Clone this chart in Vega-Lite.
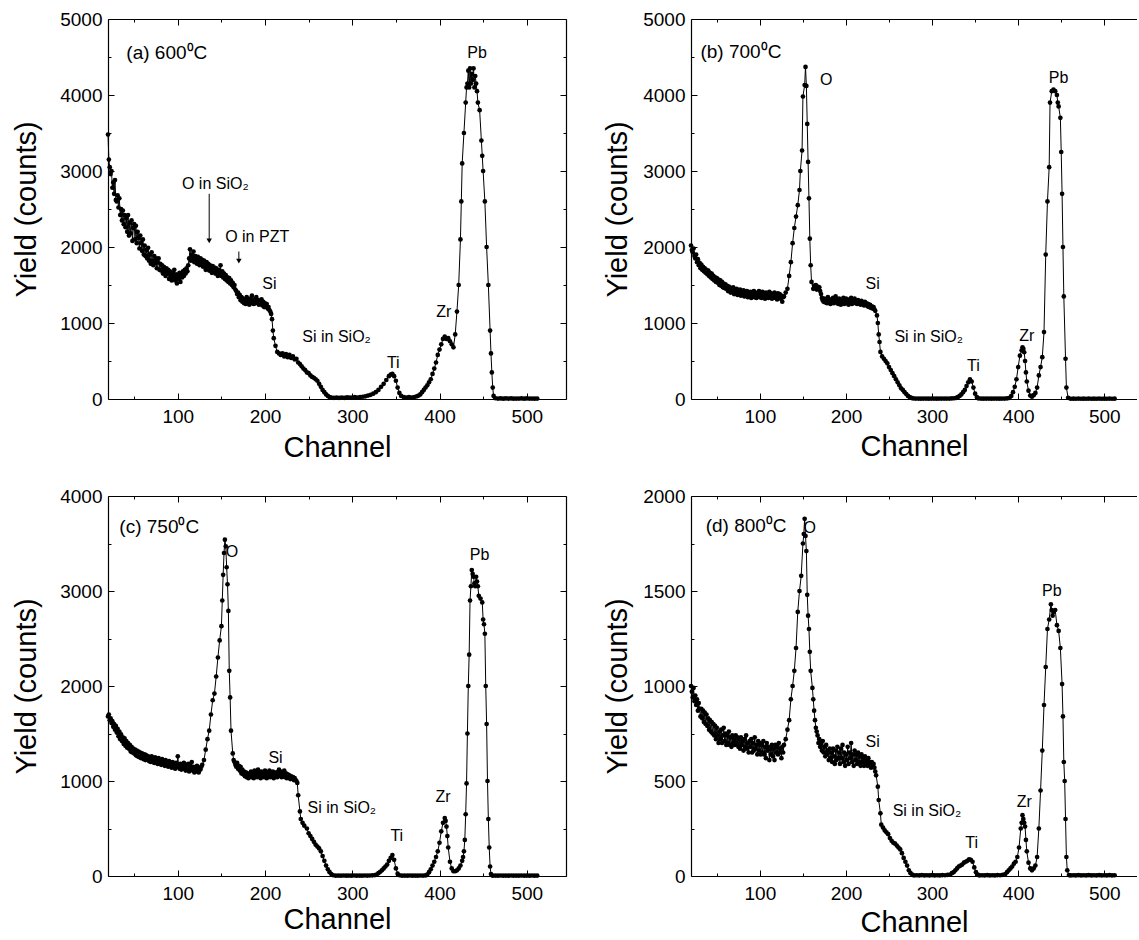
{
"$schema": "https://vega.github.io/schema/vega-lite/v6.json",
"padding": {"left": 12, "top": 10, "right": 0, "bottom": 0},
"columns": 2,
"bounds": "flush",
"spacing": {"row": 97, "column": 125},
"config": {
  "font": "Liberation Sans",
  "view": {"stroke": null},
  "axis": {"domainColor": "black", "domainWidth": 1.2, "tickColor": "black", "tickWidth": 1, "labelColor": "black", "titleColor": "black", "labelFontSize": 19, "titleFontSize": 29, "titleFontWeight": "normal", "grid": false, "labelFont": "Liberation Sans", "titleFont": "Liberation Sans", "labelFlush": false, "labelOverlap": false, "format": "d"},
  "text": {"font": "Liberation Sans", "color": "black"}
},
"datasets": {
"a": [{"c":20,"y":3480},{"c":21,"y":3150},{"c":22,"y":3050},{"c":23,"y":2960},{"c":24,"y":3000},{"c":25,"y":2780},{"c":26,"y":2850},{"c":27,"y":2700},{"c":28,"y":2880},{"c":29,"y":2620},{"c":30,"y":2600},{"c":31,"y":2680},{"c":32,"y":2520},{"c":33,"y":2640},{"c":34,"y":2420},{"c":35,"y":2500},{"c":36,"y":2350},{"c":37,"y":2480},{"c":38,"y":2300},{"c":39,"y":2420},{"c":40,"y":2260},{"c":41,"y":2380},{"c":42,"y":2200},{"c":43,"y":2420},{"c":44,"y":2150},{"c":45,"y":2320},{"c":46,"y":2180},{"c":47,"y":2350},{"c":48,"y":2080},{"c":49,"y":2250},{"c":50,"y":2300},{"c":51,"y":2100},{"c":52,"y":2280},{"c":53,"y":2050},{"c":54,"y":2200},{"c":55,"y":2120},{"c":56,"y":1980},{"c":57,"y":2150},{"c":58,"y":2050},{"c":59,"y":1950},{"c":60,"y":2100},{"c":61,"y":1900},{"c":62,"y":2020},{"c":63,"y":1880},{"c":64,"y":1960},{"c":65,"y":1850},{"c":66,"y":1990},{"c":67,"y":1820},{"c":68,"y":1900},{"c":69,"y":1780},{"c":70,"y":1930},{"c":71,"y":1820},{"c":72,"y":1760},{"c":73,"y":1880},{"c":74,"y":1790},{"c":75,"y":1850},{"c":76,"y":1720},{"c":77,"y":1800},{"c":78,"y":1850},{"c":79,"y":1700},{"c":80,"y":1780},{"c":81,"y":1690},{"c":82,"y":1760},{"c":83,"y":1650},{"c":84,"y":1740},{"c":85,"y":1680},{"c":86,"y":1620},{"c":87,"y":1720},{"c":88,"y":1650},{"c":89,"y":1700},{"c":90,"y":1580},{"c":91,"y":1680},{"c":92,"y":1620},{"c":93,"y":1560},{"c":94,"y":1660},{"c":95,"y":1600},{"c":96,"y":1700},{"c":97,"y":1560},{"c":98,"y":1640},{"c":99,"y":1520},{"c":100,"y":1620},{"c":101,"y":1580},{"c":102,"y":1660},{"c":103,"y":1540},{"c":104,"y":1640},{"c":105,"y":1600},{"c":106,"y":1680},{"c":107,"y":1620},{"c":108,"y":1700},{"c":109,"y":1650},{"c":110,"y":1720},{"c":111,"y":1680},{"c":112,"y":1760},{"c":113,"y":1850},{"c":114,"y":1970},{"c":115,"y":1820},{"c":116,"y":1900},{"c":117,"y":1850},{"c":118,"y":1940},{"c":119,"y":1800},{"c":120,"y":1880},{"c":121,"y":1830},{"c":122,"y":1780},{"c":123,"y":1870},{"c":124,"y":1810},{"c":125,"y":1760},{"c":126,"y":1850},{"c":127,"y":1790},{"c":128,"y":1830},{"c":129,"y":1740},{"c":130,"y":1820},{"c":131,"y":1760},{"c":132,"y":1700},{"c":133,"y":1800},{"c":134,"y":1740},{"c":135,"y":1780},{"c":136,"y":1690},{"c":137,"y":1760},{"c":138,"y":1720},{"c":139,"y":1660},{"c":140,"y":1750},{"c":141,"y":1690},{"c":142,"y":1730},{"c":143,"y":1650},{"c":144,"y":1720},{"c":145,"y":1680},{"c":146,"y":1620},{"c":147,"y":1700},{"c":148,"y":1650},{"c":149,"y":1760},{"c":150,"y":1620},{"c":151,"y":1680},{"c":152,"y":1600},{"c":153,"y":1650},{"c":154,"y":1580},{"c":155,"y":1630},{"c":156,"y":1560},{"c":157,"y":1600},{"c":158,"y":1540},{"c":159,"y":1590},{"c":160,"y":1520},{"c":161,"y":1560},{"c":162,"y":1500},{"c":163,"y":1530},{"c":164,"y":1470},{"c":165,"y":1500},{"c":166,"y":1440},{"c":167,"y":1420},{"c":168,"y":1380},{"c":169,"y":1400},{"c":170,"y":1340},{"c":171,"y":1370},{"c":172,"y":1300},{"c":173,"y":1340},{"c":174,"y":1280},{"c":175,"y":1320},{"c":176,"y":1260},{"c":177,"y":1310},{"c":178,"y":1250},{"c":179,"y":1340},{"c":180,"y":1270},{"c":181,"y":1300},{"c":182,"y":1240},{"c":183,"y":1320},{"c":184,"y":1260},{"c":185,"y":1360},{"c":186,"y":1280},{"c":187,"y":1250},{"c":188,"y":1310},{"c":189,"y":1260},{"c":190,"y":1340},{"c":191,"y":1270},{"c":192,"y":1300},{"c":193,"y":1240},{"c":194,"y":1290},{"c":195,"y":1250},{"c":196,"y":1310},{"c":197,"y":1230},{"c":198,"y":1280},{"c":199,"y":1210},{"c":200,"y":1260},{"c":201,"y":1220},{"c":202,"y":1250},{"c":203,"y":1190},{"c":204,"y":1210},{"c":205,"y":1170},{"c":206,"y":1150},{"c":207,"y":1120},{"c":208,"y":1050},{"c":209,"y":900},{"c":210,"y":800},{"c":212,"y":700},{"c":214,"y":620},{"c":216,"y":600},{"c":218,"y":580},{"c":220,"y":600},{"c":222,"y":560},{"c":224,"y":590},{"c":226,"y":550},{"c":228,"y":580},{"c":230,"y":540},{"c":232,"y":560},{"c":234,"y":520},{"c":236,"y":530},{"c":238,"y":480},{"c":240,"y":460},{"c":242,"y":430},{"c":244,"y":400},{"c":246,"y":380},{"c":248,"y":350},{"c":250,"y":340},{"c":252,"y":310},{"c":254,"y":290},{"c":256,"y":280},{"c":258,"y":260},{"c":260,"y":240},{"c":262,"y":200},{"c":264,"y":160},{"c":266,"y":120},{"c":268,"y":90},{"c":270,"y":60},{"c":272,"y":40},{"c":274,"y":25},{"c":276,"y":18},{"c":279,"y":15},{"c":282,"y":20},{"c":285,"y":15},{"c":288,"y":20},{"c":291,"y":15},{"c":294,"y":22},{"c":297,"y":18},{"c":300,"y":20},{"c":303,"y":25},{"c":306,"y":20},{"c":309,"y":25},{"c":312,"y":30},{"c":315,"y":35},{"c":318,"y":45},{"c":321,"y":55},{"c":324,"y":70},{"c":327,"y":90},{"c":330,"y":120},{"c":333,"y":160},{"c":336,"y":200},{"c":339,"y":250},{"c":342,"y":300},{"c":344,"y":320},{"c":346,"y":330},{"c":348,"y":300},{"c":350,"y":240},{"c":352,"y":150},{"c":354,"y":80},{"c":356,"y":40},{"c":359,"y":25},{"c":362,"y":20},{"c":365,"y":25},{"c":368,"y":20},{"c":371,"y":25},{"c":374,"y":35},{"c":376,"y":45},{"c":378,"y":60},{"c":380,"y":90},{"c":382,"y":120},{"c":384,"y":150},{"c":386,"y":180},{"c":388,"y":220},{"c":390,"y":260},{"c":392,"y":330},{"c":394,"y":400},{"c":396,"y":480},{"c":398,"y":580},{"c":400,"y":650},{"c":402,"y":720},{"c":404,"y":790},{"c":406,"y":820},{"c":408,"y":790},{"c":410,"y":800},{"c":412,"y":760},{"c":414,"y":720},{"c":416,"y":680},{"c":418,"y":850},{"c":420,"y":1150},{"c":422,"y":1500},{"c":424,"y":2100},{"c":425,"y":2600},{"c":426,"y":3100},{"c":428,"y":3500},{"c":430,"y":3900},{"c":431,"y":4100},{"c":432,"y":4150},{"c":433,"y":4320},{"c":434,"y":4100},{"c":435,"y":4350},{"c":436,"y":4150},{"c":437,"y":4280},{"c":438,"y":4200},{"c":439,"y":4350},{"c":440,"y":4100},{"c":441,"y":4250},{"c":442,"y":4150},{"c":443,"y":4050},{"c":444,"y":3900},{"c":446,"y":3800},{"c":448,"y":3400},{"c":449,"y":3200},{"c":450,"y":3000},{"c":452,"y":2600},{"c":454,"y":2000},{"c":456,"y":1500},{"c":458,"y":900},{"c":459,"y":600},{"c":460,"y":350},{"c":461,"y":150},{"c":462,"y":40},{"c":464,"y":10},{"c":467,"y":5},{"c":470,"y":8},{"c":473,"y":4},{"c":476,"y":7},{"c":479,"y":5},{"c":482,"y":8},{"c":485,"y":4},{"c":488,"y":6},{"c":491,"y":5},{"c":494,"y":8},{"c":497,"y":4},{"c":500,"y":7},{"c":503,"y":5},{"c":506,"y":6},{"c":509,"y":4},{"c":512,"y":5}],
"b": [{"c":20,"y":2020},{"c":21,"y":1960},{"c":22,"y":1930},{"c":23,"y":1980},{"c":24,"y":1880},{"c":25,"y":1850},{"c":26,"y":1900},{"c":27,"y":1800},{"c":28,"y":1840},{"c":29,"y":1760},{"c":30,"y":1790},{"c":31,"y":1720},{"c":32,"y":1770},{"c":33,"y":1700},{"c":34,"y":1740},{"c":35,"y":1680},{"c":36,"y":1720},{"c":37,"y":1660},{"c":38,"y":1700},{"c":39,"y":1640},{"c":40,"y":1690},{"c":41,"y":1620},{"c":42,"y":1660},{"c":43,"y":1600},{"c":44,"y":1650},{"c":45,"y":1580},{"c":46,"y":1620},{"c":47,"y":1560},{"c":48,"y":1600},{"c":49,"y":1540},{"c":50,"y":1590},{"c":51,"y":1530},{"c":52,"y":1570},{"c":53,"y":1500},{"c":54,"y":1560},{"c":55,"y":1490},{"c":56,"y":1540},{"c":57,"y":1470},{"c":58,"y":1520},{"c":59,"y":1460},{"c":60,"y":1510},{"c":61,"y":1450},{"c":62,"y":1490},{"c":63,"y":1420},{"c":64,"y":1480},{"c":65,"y":1430},{"c":66,"y":1400},{"c":67,"y":1460},{"c":68,"y":1410},{"c":69,"y":1470},{"c":70,"y":1380},{"c":71,"y":1430},{"c":72,"y":1390},{"c":73,"y":1450},{"c":74,"y":1370},{"c":75,"y":1420},{"c":76,"y":1380},{"c":77,"y":1440},{"c":78,"y":1360},{"c":79,"y":1410},{"c":80,"y":1380},{"c":81,"y":1430},{"c":82,"y":1350},{"c":83,"y":1400},{"c":84,"y":1370},{"c":85,"y":1420},{"c":86,"y":1340},{"c":87,"y":1390},{"c":88,"y":1360},{"c":89,"y":1410},{"c":90,"y":1330},{"c":91,"y":1400},{"c":92,"y":1350},{"c":93,"y":1420},{"c":94,"y":1340},{"c":95,"y":1380},{"c":96,"y":1330},{"c":97,"y":1400},{"c":98,"y":1350},{"c":99,"y":1420},{"c":100,"y":1340},{"c":101,"y":1380},{"c":102,"y":1330},{"c":103,"y":1410},{"c":104,"y":1350},{"c":105,"y":1390},{"c":106,"y":1320},{"c":107,"y":1400},{"c":108,"y":1340},{"c":109,"y":1380},{"c":110,"y":1330},{"c":111,"y":1410},{"c":112,"y":1350},{"c":113,"y":1390},{"c":114,"y":1320},{"c":115,"y":1380},{"c":116,"y":1340},{"c":117,"y":1400},{"c":118,"y":1330},{"c":119,"y":1370},{"c":120,"y":1310},{"c":121,"y":1390},{"c":122,"y":1340},{"c":123,"y":1380},{"c":124,"y":1320},{"c":125,"y":1360},{"c":126,"y":1280},{"c":127,"y":1340},{"c":128,"y":1350},{"c":130,"y":1400},{"c":132,"y":1450},{"c":134,"y":1620},{"c":136,"y":1800},{"c":138,"y":2050},{"c":140,"y":2250},{"c":142,"y":2400},{"c":144,"y":2550},{"c":146,"y":2750},{"c":147,"y":3000},{"c":149,"y":3270},{"c":150,"y":3980},{"c":152,"y":4130},{"c":153,"y":4370},{"c":154,"y":4120},{"c":155,"y":3620},{"c":156,"y":3120},{"c":157,"y":2640},{"c":158,"y":2110},{"c":159,"y":1760},{"c":160,"y":1540},{"c":162,"y":1450},{"c":163,"y":1490},{"c":164,"y":1460},{"c":165,"y":1500},{"c":166,"y":1440},{"c":167,"y":1480},{"c":168,"y":1450},{"c":169,"y":1470},{"c":170,"y":1420},{"c":171,"y":1380},{"c":172,"y":1330},{"c":173,"y":1300},{"c":174,"y":1280},{"c":175,"y":1320},{"c":176,"y":1270},{"c":177,"y":1300},{"c":178,"y":1260},{"c":179,"y":1340},{"c":180,"y":1280},{"c":181,"y":1310},{"c":182,"y":1250},{"c":183,"y":1300},{"c":184,"y":1270},{"c":185,"y":1330},{"c":186,"y":1260},{"c":187,"y":1290},{"c":188,"y":1350},{"c":189,"y":1270},{"c":190,"y":1310},{"c":191,"y":1250},{"c":192,"y":1320},{"c":193,"y":1280},{"c":194,"y":1240},{"c":195,"y":1300},{"c":196,"y":1270},{"c":197,"y":1330},{"c":198,"y":1250},{"c":199,"y":1290},{"c":200,"y":1320},{"c":201,"y":1260},{"c":202,"y":1300},{"c":203,"y":1240},{"c":204,"y":1310},{"c":205,"y":1270},{"c":206,"y":1330},{"c":207,"y":1250},{"c":208,"y":1300},{"c":209,"y":1270},{"c":210,"y":1320},{"c":211,"y":1260},{"c":212,"y":1290},{"c":213,"y":1250},{"c":214,"y":1300},{"c":215,"y":1260},{"c":216,"y":1280},{"c":217,"y":1240},{"c":218,"y":1290},{"c":219,"y":1250},{"c":220,"y":1270},{"c":221,"y":1230},{"c":222,"y":1280},{"c":223,"y":1240},{"c":224,"y":1260},{"c":225,"y":1220},{"c":226,"y":1250},{"c":227,"y":1210},{"c":228,"y":1240},{"c":229,"y":1200},{"c":230,"y":1220},{"c":231,"y":1190},{"c":232,"y":1210},{"c":233,"y":1180},{"c":234,"y":1160},{"c":236,"y":1100},{"c":237,"y":1000},{"c":238,"y":850},{"c":239,"y":750},{"c":240,"y":620},{"c":242,"y":560},{"c":244,"y":530},{"c":246,"y":500},{"c":248,"y":470},{"c":250,"y":420},{"c":252,"y":380},{"c":254,"y":340},{"c":256,"y":300},{"c":258,"y":260},{"c":260,"y":220},{"c":262,"y":180},{"c":264,"y":140},{"c":266,"y":120},{"c":268,"y":90},{"c":270,"y":65},{"c":272,"y":40},{"c":274,"y":25},{"c":276,"y":15},{"c":278,"y":8},{"c":281,"y":5},{"c":284,"y":6},{"c":287,"y":4},{"c":290,"y":6},{"c":293,"y":5},{"c":296,"y":4},{"c":299,"y":6},{"c":302,"y":5},{"c":305,"y":4},{"c":308,"y":6},{"c":311,"y":5},{"c":314,"y":6},{"c":317,"y":5},{"c":320,"y":6},{"c":323,"y":8},{"c":326,"y":10},{"c":328,"y":15},{"c":330,"y":25},{"c":332,"y":40},{"c":334,"y":60},{"c":336,"y":90},{"c":338,"y":120},{"c":340,"y":170},{"c":342,"y":220},{"c":344,"y":260},{"c":346,"y":230},{"c":348,"y":150},{"c":350,"y":70},{"c":352,"y":25},{"c":354,"y":8},{"c":357,"y":5},{"c":360,"y":4},{"c":363,"y":6},{"c":366,"y":5},{"c":369,"y":4},{"c":372,"y":6},{"c":375,"y":5},{"c":378,"y":4},{"c":381,"y":6},{"c":384,"y":5},{"c":387,"y":8},{"c":390,"y":15},{"c":392,"y":40},{"c":394,"y":90},{"c":396,"y":160},{"c":398,"y":260},{"c":400,"y":420},{"c":402,"y":570},{"c":404,"y":640},{"c":405,"y":680},{"c":406,"y":660},{"c":407,"y":615},{"c":408,"y":500},{"c":409,"y":350},{"c":410,"y":230},{"c":412,"y":110},{"c":414,"y":45},{"c":416,"y":30},{"c":418,"y":50},{"c":420,"y":80},{"c":422,"y":150},{"c":424,"y":310},{"c":426,"y":420},{"c":428,"y":550},{"c":430,"y":880},{"c":432,"y":1900},{"c":434,"y":2600},{"c":436,"y":3050},{"c":437,"y":3900},{"c":439,"y":4050},{"c":441,"y":4070},{"c":443,"y":4050},{"c":445,"y":4000},{"c":446,"y":3900},{"c":447,"y":3850},{"c":449,"y":3700},{"c":450,"y":3250},{"c":451,"y":2700},{"c":452,"y":2000},{"c":453,"y":1350},{"c":455,"y":530},{"c":456,"y":150},{"c":458,"y":15},{"c":461,"y":3},{"c":464,"y":4},{"c":467,"y":3},{"c":470,"y":5},{"c":473,"y":3},{"c":476,"y":4},{"c":479,"y":3},{"c":482,"y":5},{"c":485,"y":3},{"c":488,"y":4},{"c":491,"y":3},{"c":494,"y":5},{"c":497,"y":3},{"c":500,"y":4},{"c":503,"y":3},{"c":506,"y":5},{"c":509,"y":3},{"c":512,"y":4}],
"c": [{"c":20,"y":1680},{"c":21,"y":1700},{"c":22,"y":1640},{"c":23,"y":1660},{"c":24,"y":1610},{"c":25,"y":1630},{"c":26,"y":1570},{"c":27,"y":1600},{"c":28,"y":1540},{"c":29,"y":1580},{"c":30,"y":1510},{"c":31,"y":1550},{"c":32,"y":1470},{"c":33,"y":1520},{"c":34,"y":1440},{"c":35,"y":1490},{"c":36,"y":1420},{"c":37,"y":1460},{"c":38,"y":1390},{"c":39,"y":1450},{"c":40,"y":1370},{"c":41,"y":1420},{"c":42,"y":1350},{"c":43,"y":1400},{"c":44,"y":1340},{"c":45,"y":1380},{"c":46,"y":1310},{"c":47,"y":1360},{"c":48,"y":1300},{"c":49,"y":1340},{"c":50,"y":1290},{"c":51,"y":1330},{"c":52,"y":1270},{"c":53,"y":1320},{"c":54,"y":1260},{"c":55,"y":1310},{"c":56,"y":1250},{"c":57,"y":1300},{"c":58,"y":1240},{"c":59,"y":1290},{"c":60,"y":1260},{"c":61,"y":1230},{"c":62,"y":1280},{"c":63,"y":1220},{"c":64,"y":1270},{"c":65,"y":1230},{"c":66,"y":1260},{"c":67,"y":1210},{"c":68,"y":1250},{"c":69,"y":1200},{"c":70,"y":1260},{"c":71,"y":1210},{"c":72,"y":1240},{"c":73,"y":1190},{"c":74,"y":1250},{"c":75,"y":1200},{"c":76,"y":1230},{"c":77,"y":1180},{"c":78,"y":1240},{"c":79,"y":1190},{"c":80,"y":1220},{"c":81,"y":1170},{"c":82,"y":1230},{"c":83,"y":1180},{"c":84,"y":1210},{"c":85,"y":1160},{"c":86,"y":1220},{"c":87,"y":1170},{"c":88,"y":1200},{"c":89,"y":1150},{"c":90,"y":1210},{"c":91,"y":1160},{"c":92,"y":1190},{"c":93,"y":1140},{"c":94,"y":1200},{"c":95,"y":1150},{"c":96,"y":1180},{"c":97,"y":1130},{"c":98,"y":1190},{"c":99,"y":1150},{"c":100,"y":1260},{"c":101,"y":1160},{"c":102,"y":1130},{"c":103,"y":1180},{"c":104,"y":1120},{"c":105,"y":1170},{"c":106,"y":1130},{"c":107,"y":1190},{"c":108,"y":1140},{"c":109,"y":1110},{"c":110,"y":1170},{"c":111,"y":1120},{"c":112,"y":1180},{"c":113,"y":1100},{"c":114,"y":1160},{"c":115,"y":1120},{"c":116,"y":1200},{"c":117,"y":1110},{"c":118,"y":1150},{"c":119,"y":1090},{"c":120,"y":1140},{"c":121,"y":1100},{"c":122,"y":1160},{"c":123,"y":1110},{"c":124,"y":1090},{"c":125,"y":1140},{"c":126,"y":1120},{"c":127,"y":1150},{"c":128,"y":1170},{"c":130,"y":1220},{"c":132,"y":1330},{"c":134,"y":1440},{"c":136,"y":1530},{"c":138,"y":1700},{"c":140,"y":1850},{"c":142,"y":1920},{"c":144,"y":2100},{"c":146,"y":2300},{"c":148,"y":2480},{"c":150,"y":2630},{"c":151,"y":2900},{"c":152,"y":3170},{"c":153,"y":3400},{"c":154,"y":3540},{"c":155,"y":3470},{"c":156,"y":3250},{"c":157,"y":3070},{"c":158,"y":2790},{"c":159,"y":2160},{"c":160,"y":1880},{"c":161,"y":1530},{"c":163,"y":1290},{"c":164,"y":1220},{"c":165,"y":1200},{"c":166,"y":1170},{"c":167,"y":1150},{"c":168,"y":1190},{"c":169,"y":1130},{"c":170,"y":1160},{"c":171,"y":1110},{"c":172,"y":1150},{"c":173,"y":1080},{"c":174,"y":1120},{"c":175,"y":1070},{"c":176,"y":1100},{"c":177,"y":1050},{"c":178,"y":1090},{"c":179,"y":1040},{"c":180,"y":1080},{"c":181,"y":1030},{"c":182,"y":1070},{"c":183,"y":1050},{"c":184,"y":1100},{"c":185,"y":1040},{"c":186,"y":1080},{"c":187,"y":1030},{"c":188,"y":1110},{"c":189,"y":1060},{"c":190,"y":1090},{"c":191,"y":1040},{"c":192,"y":1120},{"c":193,"y":1050},{"c":194,"y":1080},{"c":195,"y":1030},{"c":196,"y":1100},{"c":197,"y":1060},{"c":198,"y":1090},{"c":199,"y":1040},{"c":200,"y":1110},{"c":201,"y":1060},{"c":202,"y":1030},{"c":203,"y":1090},{"c":204,"y":1050},{"c":205,"y":1110},{"c":206,"y":1040},{"c":207,"y":1080},{"c":208,"y":1060},{"c":209,"y":1100},{"c":210,"y":1030},{"c":211,"y":1070},{"c":212,"y":1050},{"c":213,"y":1090},{"c":214,"y":1040},{"c":215,"y":1080},{"c":216,"y":1120},{"c":217,"y":1060},{"c":218,"y":1100},{"c":219,"y":1040},{"c":220,"y":1090},{"c":221,"y":1050},{"c":222,"y":1110},{"c":223,"y":1040},{"c":224,"y":1080},{"c":225,"y":1030},{"c":226,"y":1070},{"c":227,"y":1040},{"c":228,"y":1060},{"c":229,"y":1020},{"c":230,"y":1050},{"c":231,"y":1030},{"c":232,"y":1040},{"c":233,"y":1010},{"c":234,"y":1030},{"c":235,"y":1010},{"c":236,"y":1000},{"c":237,"y":980},{"c":238,"y":850},{"c":240,"y":680},{"c":241,"y":600},{"c":243,"y":560},{"c":245,"y":530},{"c":248,"y":500},{"c":250,"y":450},{"c":252,"y":420},{"c":254,"y":390},{"c":256,"y":360},{"c":258,"y":330},{"c":260,"y":310},{"c":262,"y":290},{"c":264,"y":260},{"c":266,"y":210},{"c":268,"y":160},{"c":270,"y":110},{"c":272,"y":70},{"c":274,"y":40},{"c":276,"y":20},{"c":278,"y":8},{"c":281,"y":3},{"c":284,"y":4},{"c":287,"y":3},{"c":290,"y":5},{"c":293,"y":3},{"c":296,"y":4},{"c":299,"y":3},{"c":302,"y":5},{"c":305,"y":3},{"c":308,"y":4},{"c":311,"y":3},{"c":314,"y":5},{"c":317,"y":4},{"c":320,"y":5},{"c":323,"y":7},{"c":326,"y":10},{"c":328,"y":15},{"c":330,"y":30},{"c":332,"y":45},{"c":334,"y":60},{"c":336,"y":80},{"c":338,"y":100},{"c":340,"y":120},{"c":342,"y":160},{"c":344,"y":190},{"c":346,"y":220},{"c":348,"y":170},{"c":350,"y":80},{"c":352,"y":25},{"c":354,"y":8},{"c":357,"y":3},{"c":360,"y":4},{"c":363,"y":3},{"c":366,"y":5},{"c":369,"y":3},{"c":372,"y":4},{"c":375,"y":3},{"c":378,"y":5},{"c":381,"y":4},{"c":384,"y":6},{"c":386,"y":15},{"c":388,"y":40},{"c":390,"y":70},{"c":392,"y":110},{"c":394,"y":150},{"c":396,"y":200},{"c":398,"y":260},{"c":400,"y":350},{"c":402,"y":470},{"c":404,"y":560},{"c":406,"y":610},{"c":407,"y":580},{"c":408,"y":520},{"c":409,"y":420},{"c":410,"y":300},{"c":412,"y":150},{"c":414,"y":80},{"c":416,"y":50},{"c":418,"y":50},{"c":420,"y":60},{"c":422,"y":80},{"c":424,"y":110},{"c":426,"y":160},{"c":427,"y":200},{"c":428,"y":260},{"c":429,"y":380},{"c":430,"y":650},{"c":431,"y":975},{"c":432,"y":1500},{"c":433,"y":2000},{"c":434,"y":2330},{"c":435,"y":2900},{"c":436,"y":3050},{"c":437,"y":3220},{"c":438,"y":3180},{"c":439,"y":3150},{"c":440,"y":3080},{"c":441,"y":3050},{"c":442,"y":3150},{"c":443,"y":3100},{"c":444,"y":3050},{"c":445,"y":2950},{"c":447,"y":2920},{"c":449,"y":2880},{"c":450,"y":2700},{"c":451,"y":2650},{"c":452,"y":2550},{"c":453,"y":2000},{"c":454,"y":1600},{"c":455,"y":1000},{"c":456,"y":600},{"c":457,"y":300},{"c":458,"y":100},{"c":459,"y":20},{"c":461,"y":3},{"c":464,"y":4},{"c":467,"y":3},{"c":470,"y":5},{"c":473,"y":3},{"c":476,"y":4},{"c":479,"y":3},{"c":482,"y":5},{"c":485,"y":3},{"c":488,"y":4},{"c":491,"y":3},{"c":494,"y":5},{"c":497,"y":3},{"c":500,"y":4},{"c":503,"y":3},{"c":506,"y":5},{"c":509,"y":3},{"c":512,"y":4}],
"d": [{"c":20,"y":1000},{"c":21,"y":970},{"c":22,"y":940},{"c":23,"y":990},{"c":24,"y":920},{"c":25,"y":950},{"c":26,"y":900},{"c":27,"y":930},{"c":28,"y":870},{"c":29,"y":910},{"c":30,"y":880},{"c":31,"y":840},{"c":32,"y":880},{"c":33,"y":830},{"c":34,"y":870},{"c":35,"y":810},{"c":36,"y":860},{"c":37,"y":800},{"c":38,"y":850},{"c":39,"y":790},{"c":40,"y":830},{"c":41,"y":770},{"c":42,"y":820},{"c":43,"y":760},{"c":44,"y":810},{"c":45,"y":750},{"c":46,"y":800},{"c":47,"y":740},{"c":48,"y":790},{"c":49,"y":720},{"c":50,"y":780},{"c":51,"y":740},{"c":52,"y":700},{"c":53,"y":760},{"c":54,"y":720},{"c":55,"y":770},{"c":56,"y":700},{"c":57,"y":740},{"c":58,"y":780},{"c":59,"y":710},{"c":60,"y":750},{"c":61,"y":690},{"c":62,"y":740},{"c":63,"y":700},{"c":64,"y":760},{"c":65,"y":690},{"c":66,"y":730},{"c":67,"y":680},{"c":68,"y":740},{"c":69,"y":700},{"c":70,"y":720},{"c":71,"y":690},{"c":72,"y":740},{"c":73,"y":700},{"c":74,"y":730},{"c":75,"y":680},{"c":76,"y":720},{"c":77,"y":670},{"c":78,"y":730},{"c":79,"y":690},{"c":80,"y":710},{"c":81,"y":660},{"c":82,"y":720},{"c":83,"y":680},{"c":84,"y":740},{"c":85,"y":670},{"c":86,"y":700},{"c":87,"y":650},{"c":88,"y":710},{"c":89,"y":680},{"c":90,"y":720},{"c":91,"y":650},{"c":92,"y":700},{"c":93,"y":660},{"c":94,"y":730},{"c":95,"y":670},{"c":96,"y":690},{"c":97,"y":640},{"c":98,"y":710},{"c":99,"y":660},{"c":100,"y":700},{"c":101,"y":640},{"c":102,"y":690},{"c":103,"y":650},{"c":104,"y":710},{"c":105,"y":640},{"c":106,"y":680},{"c":107,"y":620},{"c":108,"y":700},{"c":109,"y":660},{"c":110,"y":680},{"c":111,"y":610},{"c":112,"y":670},{"c":113,"y":640},{"c":114,"y":690},{"c":115,"y":630},{"c":116,"y":670},{"c":117,"y":610},{"c":118,"y":690},{"c":119,"y":650},{"c":120,"y":680},{"c":121,"y":640},{"c":122,"y":700},{"c":123,"y":650},{"c":124,"y":670},{"c":125,"y":620},{"c":126,"y":680},{"c":127,"y":650},{"c":128,"y":690},{"c":130,"y":720},{"c":132,"y":770},{"c":134,"y":820},{"c":136,"y":930},{"c":138,"y":1000},{"c":140,"y":1080},{"c":142,"y":1200},{"c":144,"y":1390},{"c":146,"y":1500},{"c":148,"y":1580},{"c":150,"y":1750},{"c":151,"y":1800},{"c":152,"y":1880},{"c":153,"y":1790},{"c":154,"y":1710},{"c":155,"y":1480},{"c":156,"y":1370},{"c":157,"y":1300},{"c":158,"y":1180},{"c":159,"y":1080},{"c":161,"y":990},{"c":162,"y":930},{"c":163,"y":870},{"c":164,"y":820},{"c":165,"y":780},{"c":166,"y":760},{"c":167,"y":740},{"c":168,"y":700},{"c":169,"y":720},{"c":170,"y":680},{"c":171,"y":700},{"c":172,"y":660},{"c":173,"y":710},{"c":174,"y":650},{"c":175,"y":680},{"c":176,"y":630},{"c":177,"y":690},{"c":178,"y":640},{"c":179,"y":660},{"c":180,"y":610},{"c":181,"y":670},{"c":182,"y":620},{"c":183,"y":650},{"c":184,"y":600},{"c":185,"y":670},{"c":186,"y":630},{"c":187,"y":590},{"c":188,"y":660},{"c":189,"y":610},{"c":190,"y":680},{"c":191,"y":620},{"c":192,"y":650},{"c":193,"y":590},{"c":194,"y":670},{"c":195,"y":620},{"c":196,"y":690},{"c":197,"y":600},{"c":198,"y":650},{"c":199,"y":580},{"c":200,"y":640},{"c":201,"y":610},{"c":202,"y":680},{"c":203,"y":590},{"c":204,"y":650},{"c":205,"y":620},{"c":206,"y":700},{"c":207,"y":600},{"c":208,"y":640},{"c":209,"y":580},{"c":210,"y":660},{"c":211,"y":610},{"c":212,"y":640},{"c":213,"y":590},{"c":214,"y":650},{"c":215,"y":600},{"c":216,"y":630},{"c":217,"y":580},{"c":218,"y":640},{"c":219,"y":600},{"c":220,"y":620},{"c":221,"y":580},{"c":222,"y":630},{"c":223,"y":590},{"c":224,"y":610},{"c":225,"y":580},{"c":226,"y":620},{"c":227,"y":590},{"c":228,"y":600},{"c":229,"y":570},{"c":230,"y":600},{"c":231,"y":580},{"c":232,"y":590},{"c":233,"y":570},{"c":234,"y":550},{"c":235,"y":530},{"c":237,"y":470},{"c":238,"y":400},{"c":240,"y":330},{"c":241,"y":270},{"c":243,"y":255},{"c":245,"y":240},{"c":247,"y":230},{"c":249,"y":220},{"c":251,"y":200},{"c":253,"y":185},{"c":255,"y":175},{"c":257,"y":170},{"c":259,"y":160},{"c":261,"y":150},{"c":263,"y":140},{"c":265,"y":120},{"c":267,"y":95},{"c":269,"y":75},{"c":271,"y":55},{"c":273,"y":30},{"c":275,"y":15},{"c":277,"y":8},{"c":279,"y":3},{"c":282,"y":4},{"c":285,"y":3},{"c":288,"y":5},{"c":291,"y":3},{"c":294,"y":4},{"c":297,"y":3},{"c":300,"y":5},{"c":303,"y":3},{"c":306,"y":4},{"c":309,"y":3},{"c":312,"y":5},{"c":315,"y":4},{"c":318,"y":6},{"c":321,"y":8},{"c":323,"y":15},{"c":325,"y":20},{"c":327,"y":30},{"c":329,"y":40},{"c":331,"y":50},{"c":333,"y":55},{"c":335,"y":60},{"c":337,"y":70},{"c":339,"y":75},{"c":341,"y":80},{"c":343,"y":88},{"c":345,"y":85},{"c":347,"y":75},{"c":349,"y":45},{"c":351,"y":20},{"c":353,"y":8},{"c":355,"y":3},{"c":358,"y":4},{"c":361,"y":3},{"c":364,"y":5},{"c":367,"y":3},{"c":370,"y":4},{"c":373,"y":3},{"c":376,"y":5},{"c":379,"y":4},{"c":382,"y":6},{"c":385,"y":10},{"c":387,"y":20},{"c":389,"y":30},{"c":391,"y":40},{"c":393,"y":50},{"c":395,"y":65},{"c":397,"y":75},{"c":399,"y":100},{"c":401,"y":150},{"c":403,"y":250},{"c":404,"y":280},{"c":405,"y":320},{"c":406,"y":300},{"c":407,"y":280},{"c":408,"y":260},{"c":409,"y":190},{"c":410,"y":130},{"c":412,"y":70},{"c":414,"y":40},{"c":416,"y":30},{"c":418,"y":40},{"c":420,"y":55},{"c":422,"y":100},{"c":424,"y":250},{"c":426,"y":450},{"c":428,"y":660},{"c":430,"y":900},{"c":432,"y":1100},{"c":434,"y":1300},{"c":436,"y":1350},{"c":438,"y":1430},{"c":439,"y":1400},{"c":440,"y":1370},{"c":441,"y":1390},{"c":443,"y":1400},{"c":445,"y":1320},{"c":447,"y":1290},{"c":449,"y":1200},{"c":451,"y":1010},{"c":452,"y":840},{"c":453,"y":600},{"c":454,"y":500},{"c":455,"y":300},{"c":456,"y":100},{"c":457,"y":30},{"c":459,"y":5},{"c":461,"y":3},{"c":464,"y":4},{"c":467,"y":3},{"c":470,"y":5},{"c":473,"y":3},{"c":476,"y":4},{"c":479,"y":3},{"c":482,"y":5},{"c":485,"y":3},{"c":488,"y":4},{"c":491,"y":3},{"c":494,"y":5},{"c":497,"y":3},{"c":500,"y":4},{"c":503,"y":3},{"c":506,"y":5},{"c":509,"y":3},{"c":512,"y":4}]
},
"concat": [
{
  "width": 458, "height": 380,
  "resolve": {"axis": {"x": "independent", "y": "independent"}},
  "layer": [
    {
      "encoding": {
        "x": {"field": "c", "type": "quantitative", "scale": {"domain": [20, 545], "nice": false, "zero": false},
          "axis": {"title": "Channel", "values": [50,100,150,200,250,300,350,400,450,500], "labelExpr": "datum.value % 100 === 0 ? datum.label : ''", "tickSize": {"condition": {"test": "datum.value % 100 === 0", "value": -6}, "value": -3}, "labelPadding": 14, "titleY": 48, "titleBaseline": "middle"}},
        "y": {"field": "y", "type": "quantitative", "scale": {"domain": [0, 5000], "nice": false},
          "axis": {"title": "Yield (counts)", "values": [0,500,1000,1500,2000,2500,3000,3500,4000,4500,5000], "labelExpr": "datum.value % 1000 === 0 ? datum.label : ''", "tickSize": {"condition": {"test": "datum.value % 1000 === 0", "value": -6}, "value": -3}, "labelPadding": 12, "titleX": -82, "titleBaseline": "middle"}}
      },
      "layer": [
        {"data": {"name": "a"}, "mark": {"type": "line", "color": "black", "strokeWidth": 1}, "encoding": {}},
        {"data": {"name": "a"}, "mark": {"type": "point", "filled": true, "color": "black", "size": 22, "opacity": 1}, "encoding": {}},
        {"data": {"values": [{"c": 41, "y": 4550, "t": "(a) 600⁰C"}]}, "mark": {"type": "text", "align": "left", "baseline": "middle", "fontSize": 19}, "encoding": {"text": {"field": "t"}}},
        {"data": {"values": [{"c":143,"y":2835,"t":"O in SiO₂"},{"c":191,"y":2130,"t":"O in PZT"},{"c":205,"y":1515,"t":"Si"},{"c":282,"y":810,"t":"Si in SiO₂"},{"c":347,"y":480,"t":"Ti"},{"c":405,"y":1140,"t":"Zr"},{"c":443,"y":4550,"t":"Pb"}]}, "mark": {"type": "text", "align": "center", "baseline": "middle", "fontSize": 16}, "encoding": {"text": {"field": "t"}}},
        {"data": {"values": [{"c":136,"y":2700,"y2":2080},{"c":170,"y":1940,"y2":1815}]}, "mark": {"type": "rule", "color": "black", "strokeWidth": 1}, "encoding": {"y2": {"field": "y2"}}},
        {"data": {"values": [{"c":136,"y":2080},{"c":170,"y":1815}]}, "mark": {"type": "point", "shape": "triangle-down", "filled": true, "color": "black", "size": 30, "opacity": 1}, "encoding": {}}
      ]
    },
    {
      "data": {"values": [{"c": 100, "y": 100}]},
      "mark": {"type": "point", "opacity": 0},
      "encoding": {
        "x": {"field": "c", "type": "quantitative", "scale": {"domain": [20, 545], "nice": false, "zero": false},
          "axis": {"orient": "top", "labels": false, "title": null, "values": [50,100,150,200,250,300,350,400,450,500], "tickSize": {"condition": {"test": "datum.value % 100 === 0", "value": -6}, "value": -3}}},
        "y": {"field": "y", "type": "quantitative", "scale": {"domain": [0, 5000], "nice": false},
          "axis": {"orient": "right", "labels": false, "title": null, "values": [0,500,1000,1500,2000,2500,3000,3500,4000,4500,5000], "tickSize": {"condition": {"test": "datum.value % 1000 === 0", "value": -6}, "value": -3}}}
      }
    }
  ]
},
{
  "width": 446, "height": 380,
  "resolve": {"axis": {"x": "independent", "y": "independent"}},
  "layer": [
    {
      "encoding": {
        "x": {"field": "c", "type": "quantitative", "scale": {"domain": [20, 538], "nice": false, "zero": false},
          "axis": {"title": "Channel", "values": [50,100,150,200,250,300,350,400,450,500], "labelExpr": "datum.value % 100 === 0 ? datum.label : ''", "tickSize": {"condition": {"test": "datum.value % 100 === 0", "value": -6}, "value": -3}, "labelPadding": 14, "titleY": 47, "titleBaseline": "middle"}},
        "y": {"field": "y", "type": "quantitative", "scale": {"domain": [0, 5000], "nice": false},
          "axis": {"title": "Yield (counts)", "values": [0,500,1000,1500,2000,2500,3000,3500,4000,4500,5000], "labelExpr": "datum.value % 1000 === 0 ? datum.label : ''", "tickSize": {"condition": {"test": "datum.value % 1000 === 0", "value": -6}, "value": -3}, "labelPadding": 12, "titleX": -74, "titleBaseline": "middle"}}
      },
      "layer": [
        {"data": {"name": "b"}, "mark": {"type": "line", "color": "black", "strokeWidth": 1}, "encoding": {}},
        {"data": {"name": "b"}, "mark": {"type": "point", "filled": true, "color": "black", "size": 22, "opacity": 1}, "encoding": {}},
        {"data": {"values": [{"c": 31, "y": 4570, "t": "(b) 700⁰C"}]}, "mark": {"type": "text", "align": "left", "baseline": "middle", "fontSize": 19}, "encoding": {"text": {"field": "t"}}},
        {"data": {"values": [{"c":177,"y":4200,"t":"O"},{"c":447,"y":4220,"t":"Pb"},{"c":231,"y":1515,"t":"Si"},{"c":296,"y":810,"t":"Si in SiO₂"},{"c":348,"y":440,"t":"Ti"},{"c":410,"y":835,"t":"Zr"}]}, "mark": {"type": "text", "align": "center", "baseline": "middle", "fontSize": 16}, "encoding": {"text": {"field": "t"}}}
      ]
    },
    {
      "data": {"values": [{"c": 100, "y": 100}]},
      "mark": {"type": "point", "opacity": 0},
      "encoding": {
        "x": {"field": "c", "type": "quantitative", "scale": {"domain": [20, 538], "nice": false, "zero": false},
          "axis": {"orient": "top", "labels": false, "title": null, "values": [50,100,150,200,250,300,350,400,450,500], "tickSize": {"condition": {"test": "datum.value % 100 === 0", "value": -6}, "value": -3}}},
        "y": {"field": "y", "type": "quantitative", "scale": {"domain": [0, 5000], "nice": false}, "axis": null}
      }
    }
  ]
},
{
  "width": 458, "height": 380,
  "resolve": {"axis": {"x": "independent", "y": "independent"}},
  "layer": [
    {
      "encoding": {
        "x": {"field": "c", "type": "quantitative", "scale": {"domain": [20, 545], "nice": false, "zero": false},
          "axis": {"title": "Channel", "values": [50,100,150,200,250,300,350,400,450,500], "labelExpr": "datum.value % 100 === 0 ? datum.label : ''", "tickSize": {"condition": {"test": "datum.value % 100 === 0", "value": -6}, "value": -3}, "labelPadding": 14, "titleY": 43, "titleBaseline": "middle"}},
        "y": {"field": "y", "type": "quantitative", "scale": {"domain": [0, 4000], "nice": false},
          "axis": {"title": "Yield (counts)", "values": [0,500,1000,1500,2000,2500,3000,3500,4000], "labelExpr": "datum.value % 1000 === 0 ? datum.label : ''", "tickSize": {"condition": {"test": "datum.value % 1000 === 0", "value": -6}, "value": -3}, "labelPadding": 12, "titleX": -82, "titleBaseline": "middle"}}
      },
      "layer": [
        {"data": {"name": "c"}, "mark": {"type": "line", "color": "black", "strokeWidth": 1}, "encoding": {}},
        {"data": {"name": "c"}, "mark": {"type": "point", "filled": true, "color": "black", "size": 22, "opacity": 1}, "encoding": {}},
        {"data": {"values": [{"c": 33, "y": 3675, "t": "(c) 750⁰C"}]}, "mark": {"type": "text", "align": "left", "baseline": "middle", "fontSize": 19}, "encoding": {"text": {"field": "t"}}},
        {"data": {"values": [{"c":162,"y":3415,"t":"O"},{"c":446,"y":3380,"t":"Pb"},{"c":212,"y":1240,"t":"Si"},{"c":288,"y":715,"t":"Si in SiO₂"},{"c":351,"y":420,"t":"Ti"},{"c":404,"y":835,"t":"Zr"}]}, "mark": {"type": "text", "align": "center", "baseline": "middle", "fontSize": 16}, "encoding": {"text": {"field": "t"}}}
      ]
    },
    {
      "data": {"values": [{"c": 100, "y": 100}]},
      "mark": {"type": "point", "opacity": 0},
      "encoding": {
        "x": {"field": "c", "type": "quantitative", "scale": {"domain": [20, 545], "nice": false, "zero": false},
          "axis": {"orient": "top", "labels": false, "title": null, "values": [50,100,150,200,250,300,350,400,450,500], "tickSize": {"condition": {"test": "datum.value % 100 === 0", "value": -6}, "value": -3}}},
        "y": {"field": "y", "type": "quantitative", "scale": {"domain": [0, 4000], "nice": false},
          "axis": {"orient": "right", "labels": false, "title": null, "values": [0,500,1000,1500,2000,2500,3000,3500,4000], "tickSize": {"condition": {"test": "datum.value % 1000 === 0", "value": -6}, "value": -3}}}
      }
    }
  ]
},
{
  "width": 446, "height": 380,
  "resolve": {"axis": {"x": "independent", "y": "independent"}},
  "layer": [
    {
      "encoding": {
        "x": {"field": "c", "type": "quantitative", "scale": {"domain": [20, 538], "nice": false, "zero": false},
          "axis": {"title": "Channel", "values": [50,100,150,200,250,300,350,400,450,500], "labelExpr": "datum.value % 100 === 0 ? datum.label : ''", "tickSize": {"condition": {"test": "datum.value % 100 === 0", "value": -6}, "value": -3}, "labelPadding": 14, "titleY": 46, "titleBaseline": "middle"}},
        "y": {"field": "y", "type": "quantitative", "scale": {"domain": [0, 2000], "nice": false},
          "axis": {"title": "Yield (counts)", "values": [0,250,500,750,1000,1250,1500,1750,2000], "labelExpr": "datum.value % 500 === 0 ? datum.label : ''", "tickSize": {"condition": {"test": "datum.value % 500 === 0", "value": -6}, "value": -3}, "labelPadding": 12, "titleX": -74, "titleBaseline": "middle"}}
      },
      "layer": [
        {"data": {"name": "d"}, "mark": {"type": "line", "color": "black", "strokeWidth": 1}, "encoding": {}},
        {"data": {"name": "d"}, "mark": {"type": "point", "filled": true, "color": "black", "size": 22, "opacity": 1}, "encoding": {}},
        {"data": {"values": [{"c": 37, "y": 1840, "t": "(d) 800⁰C"}]}, "mark": {"type": "text", "align": "left", "baseline": "middle", "fontSize": 19}, "encoding": {"text": {"field": "t"}}},
        {"data": {"values": [{"c":158,"y":1830,"t":"O"},{"c":439,"y":1500,"t":"Pb"},{"c":231,"y":705,"t":"Si"},{"c":294,"y":340,"t":"Si in SiO₂"},{"c":346,"y":175,"t":"Ti"},{"c":407,"y":390,"t":"Zr"}]}, "mark": {"type": "text", "align": "center", "baseline": "middle", "fontSize": 16}, "encoding": {"text": {"field": "t"}}}
      ]
    },
    {
      "data": {"values": [{"c": 100, "y": 100}]},
      "mark": {"type": "point", "opacity": 0},
      "encoding": {
        "x": {"field": "c", "type": "quantitative", "scale": {"domain": [20, 538], "nice": false, "zero": false},
          "axis": {"orient": "top", "labels": false, "title": null, "values": [50,100,150,200,250,300,350,400,450,500], "tickSize": {"condition": {"test": "datum.value % 100 === 0", "value": -6}, "value": -3}}},
        "y": {"field": "y", "type": "quantitative", "scale": {"domain": [0, 2000], "nice": false}, "axis": null}
      }
    }
  ]
}
]
}
